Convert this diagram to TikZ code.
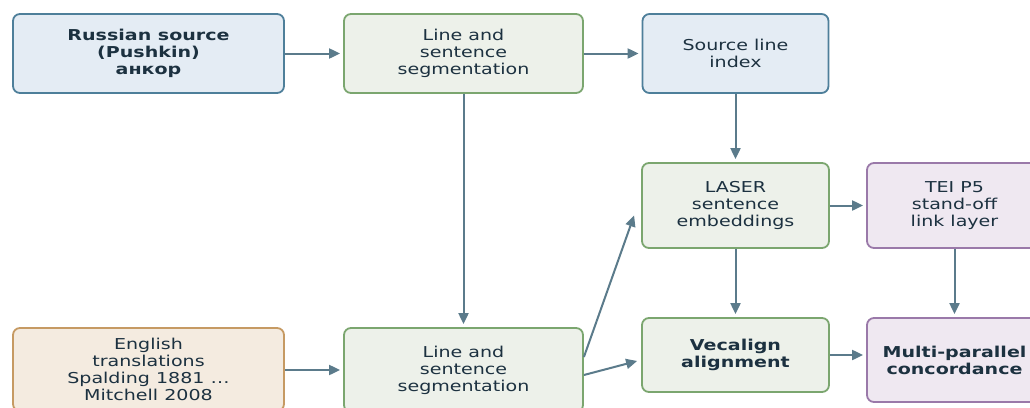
\documentclass[tikz,border=0pt]{standalone}
\usepackage{fontspec}
\setmainfont[FakeStretch=1.27]{DejaVu Sans}
\usetikzlibrary{arrows.meta,calc}
\definecolor{txt}{HTML}{1C3140}
\definecolor{arrc}{HTML}{5B7B8B}
\definecolor{bluefill}{HTML}{E4ECF4}
\definecolor{blueline}{HTML}{4E7F9A}
\definecolor{greenfill}{HTML}{EDF1EA}
\definecolor{greenline}{HTML}{7BA66F}
\definecolor{purplefill}{HTML}{EFE8F1}
\definecolor{purpleline}{HTML}{9A79A9}
\definecolor{orangefill}{HTML}{F4EBE0}
\definecolor{orangeline}{HTML}{C69A63}
\begin{document}
\begin{tikzpicture}[x=1pt,y=-1pt,
  box/.style={draw,line width=1.8pt,rounded corners=7pt,align=center,text=txt,
    font=\fontsize{15}{17}\selectfont,inner sep=0pt},
  bluebox/.style={box,fill=bluefill,draw=blueline},
  greenbox/.style={box,fill=greenfill,draw=greenline},
  purplebox/.style={box,fill=purplefill,draw=purpleline},
  orangebox/.style={box,fill=orangefill,draw=orangeline},
  arr/.style={draw=arrc,line width=2pt,-{Triangle[length=11pt,width=10pt]},shorten >=3pt}
]
\useasboundingbox (0,0) rectangle (1030,407);
\clip (0,0) rectangle (1030,407);
\fill[white] (0,0) rectangle (1030,407);

\node[bluebox,minimum width=271pt,minimum height=79pt] (rus) at (148.5,53.5)
  {\bfseries Russian source\\ \bfseries (Pushkin)\\ \bfseries анкор};
\node[greenbox,minimum width=239pt,minimum height=79pt] (seg1) at (463.5,53.5)
  {Line and\\ sentence\\ segmentation};
\node[bluebox,minimum width=186pt,minimum height=79pt] (idx) at (735.5,53.5)
  {Source line\\ index};
\node[greenbox,minimum width=187pt,minimum height=85pt] (laser) at (735.5,205.5)
  {LASER\\ sentence\\ embeddings};
\node[purplebox,minimum width=175pt,minimum height=85pt] (tei) at (954.5,205.5)
  {TEI P5\\ stand-off\\ link layer};
\node[greenbox,minimum width=187pt,minimum height=74pt] (vec) at (735.5,355)
  {\bfseries Vecalign\\ \bfseries alignment};
\node[purplebox,minimum width=175pt,minimum height=84pt] (multi) at (954.5,360)
  {\bfseries Multi-parallel\\ \bfseries concordance};
\node[orangebox,minimum width=271pt,minimum height=83pt] (eng) at (148.5,369.5)
  {English\\ translations\\ Spalding 1881 \dots\\ Mitchell 2008};
\node[greenbox,minimum width=239pt,minimum height=84pt] (seg2) at (463.5,370)
  {Line and\\ sentence\\ segmentation};

\draw[arr] (rus) -- (seg1);
\draw[arr] (seg1) -- (idx);
\draw[arr] (seg1) -- (seg2);
\draw[arr] (idx) -- (laser);
\draw[arr] (eng.east |- seg2) -- (seg2);
\draw[arr,shorten >=0pt] ($(seg2.east)+(0,-13)$) -- ($(laser.west)+(-7,10)$);
\draw[arr,shorten >=0pt] ($(seg2.east)+(0,5)$) -- ($(vec.west)+(-4,6)$);
\draw[arr] (laser) -- (tei);
\draw[arr] (laser) -- (vec);
\draw[arr] (tei) -- (multi);
\draw[arr] (vec) -- (vec -| multi.west);
\end{tikzpicture}
\end{document}
